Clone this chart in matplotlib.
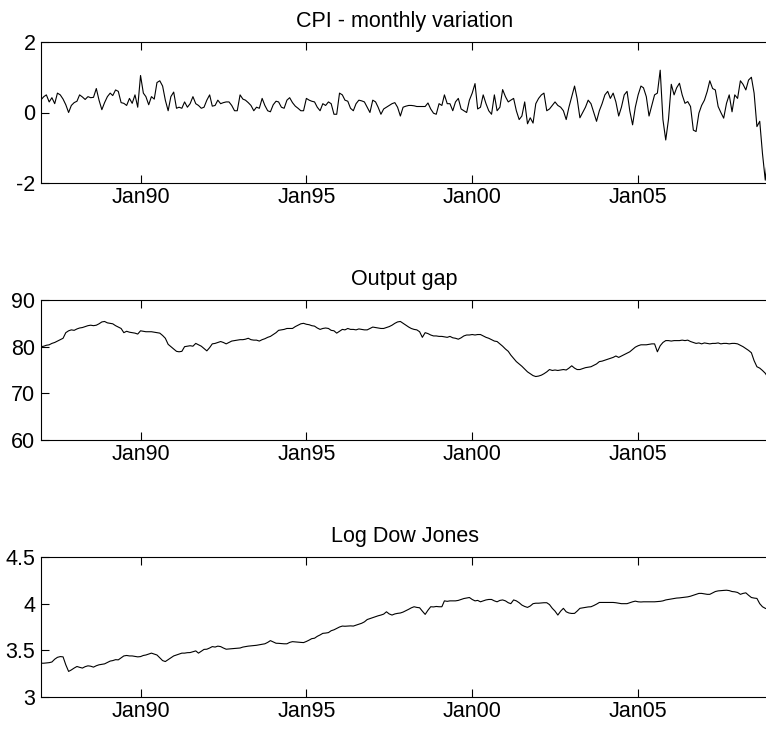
import numpy as np
import pandas as pd
import matplotlib
matplotlib.use('Agg')
import matplotlib.pyplot as plt
import matplotlib.dates as mdates

# monthly data, Jan 1987 - Dec 2008
start = '1987-01-01'

cpi = [
	0.36, 0.45, 0.5, 0.3, 0.42, 0.25, 0.55, 0.5, 0.38, 0.22,
	0.0, 0.2, 0.28, 0.32, 0.5, 0.44, 0.37, 0.45, 0.42, 0.43,
	0.68, 0.35, 0.08, 0.28, 0.45, 0.55, 0.48, 0.64, 0.6, 0.28,
	0.26, 0.2, 0.4, 0.26, 0.5, 0.15, 1.05, 0.55, 0.45, 0.22,
	0.45, 0.38, 0.85, 0.9, 0.75, 0.35, 0.05, 0.45, 0.58, 0.12,
	0.15, 0.12, 0.3, 0.15, 0.25, 0.45, 0.25, 0.2, 0.12, 0.15,
	0.35, 0.5, 0.18, 0.2, 0.35, 0.25, 0.28, 0.3, 0.3, 0.2,
	0.05, 0.05, 0.5, 0.38, 0.35, 0.28, 0.2, 0.05, 0.15, 0.12,
	0.4, 0.2, 0.05, 0.02, 0.22, 0.32, 0.3, 0.15, 0.12, 0.35,
	0.42, 0.28, 0.18, 0.12, 0.05, 0.05, 0.4, 0.35, 0.32, 0.3,
	0.15, 0.05, 0.25, 0.2, 0.3, 0.25, -0.05, -0.05, 0.55, 0.5,
	0.35, 0.32, 0.12, 0.05, 0.25, 0.35, 0.33, 0.3, 0.15, 0.0,
	0.35, 0.3, 0.15, -0.05, 0.1, 0.15, 0.2, 0.25, 0.28, 0.15,
	-0.1, 0.15, 0.18, 0.2, 0.2, 0.19, 0.17, 0.17, 0.17, 0.17,
	0.27, 0.1, -0.02, -0.05, 0.25, 0.2, 0.5, 0.25, 0.25, 0.05,
	0.3, 0.4, 0.1, 0.05, 0.0, 0.35, 0.55, 0.82, 0.1, 0.15,
	0.5, 0.25, 0.05, -0.05, 0.5, 0.05, 0.15, 0.65, 0.45, 0.3,
	0.35, 0.4, 0.05, -0.2, -0.1, 0.3, -0.32, -0.15, -0.3, 0.25,
	0.4, 0.5, 0.55, 0.05, 0.1, 0.2, 0.3, 0.2, 0.15, 0.05,
	-0.2, 0.15, 0.45, 0.75, 0.4, -0.15, 0.0, 0.15, 0.35, 0.25,
	0.0, -0.25, 0.05, 0.25, 0.5, 0.6, 0.4, 0.55, 0.3, -0.1,
	0.15, 0.5, 0.6, 0.05, -0.35, 0.15, 0.5, 0.75, 0.7, 0.45,
	-0.1, 0.2, 0.5, 0.55, 1.2, -0.2, -0.78, -0.2, 0.8, 0.5,
	0.7, 0.83, 0.5, 0.26, 0.31, 0.17, -0.5, -0.54, -0.02, 0.2,
	0.35, 0.6, 0.9, 0.68, 0.64, 0.17, 0.0, -0.16, 0.26, 0.5,
	0.02, 0.5, 0.4, 0.9, 0.8, 0.64, 0.92, 1.0, 0.55, -0.4,
	-0.25, -1.16, -1.92, -1.1,
]

output_gap = [
	80.0, 80.1, 80.3, 80.4, 80.7, 80.9, 81.2, 81.5, 81.8, 83.0,
	83.4, 83.6, 83.5, 83.8, 84.0, 84.1, 84.3, 84.5, 84.6, 84.5,
	84.6, 84.9, 85.3, 85.4, 85.1, 85.0, 84.9, 84.5, 84.2, 83.9,
	83.0, 83.3, 83.1, 83.0, 82.9, 82.7, 83.4, 83.3, 83.2, 83.2,
	83.2, 83.1, 83.0, 82.9, 82.4, 81.8, 80.5, 80.0, 79.5, 79.0,
	78.9, 79.0, 80.0, 80.1, 80.2, 80.1, 80.7, 80.4, 80.1, 79.6,
	79.1, 79.8, 80.6, 80.7, 80.9, 81.1, 80.9, 80.6, 80.9, 81.2,
	81.3, 81.4, 81.5, 81.5, 81.6, 81.8, 81.5, 81.4, 81.4, 81.2,
	81.5, 81.7, 82.0, 82.2, 82.6, 83.0, 83.5, 83.6, 83.7, 83.9,
	83.9, 83.9, 84.3, 84.6, 84.9, 85.0, 84.8, 84.7, 84.5, 84.4,
	84.0, 83.7, 83.9, 84.0, 83.9, 83.5, 83.4, 82.9, 83.3, 83.7,
	83.6, 83.9, 83.7, 83.7, 83.6, 83.8, 83.7, 83.6, 83.6, 83.9,
	84.2, 84.1, 84.0, 83.9, 83.9, 84.1, 84.3, 84.6, 85.0, 85.3,
	85.4, 85.0, 84.6, 84.2, 83.9, 83.7, 83.6, 83.2, 82.0, 83.0,
	82.8, 82.5, 82.3, 82.3, 82.2, 82.2, 82.1, 82.0, 82.2, 81.9,
	81.8, 81.6, 81.9, 82.3, 82.5, 82.5, 82.6, 82.5, 82.6, 82.6,
	82.3, 82.0, 81.8, 81.5, 81.2, 81.1, 80.6, 80.1, 79.5, 79.0,
	78.2, 77.5, 76.8, 76.3, 75.8, 75.2, 74.6, 74.2, 73.8, 73.6,
	73.7, 73.9, 74.2, 74.6, 75.1, 74.9, 75.0, 74.9, 75.0, 75.1,
	75.0, 75.4, 75.9, 75.4, 75.1, 75.1, 75.3, 75.5, 75.6, 75.7,
	76.0, 76.3, 76.8, 76.9, 77.1, 77.3, 77.5, 77.7, 78.0, 77.7,
	78.0, 78.3, 78.6, 78.9, 79.4, 79.9, 80.2, 80.4, 80.4, 80.4,
	80.5, 80.6, 80.6, 78.9, 80.2, 80.9, 81.3, 81.3, 81.2, 81.3,
	81.3, 81.3, 81.4, 81.3, 81.4, 81.1, 80.9, 80.7, 80.8, 80.6,
	80.8, 80.7, 80.6, 80.7, 80.7, 80.8, 80.6, 80.7, 80.7, 80.6,
	80.7, 80.7, 80.6, 80.3, 80.0, 79.6, 79.2, 78.7, 77.0, 75.7,
	75.4, 74.9, 74.3, 73.4,
]

log_dow = [
	3.362, 3.362, 3.365, 3.368, 3.375, 3.405, 3.425, 3.433, 3.43, 3.345,
	3.274, 3.29, 3.31, 3.327, 3.318, 3.31, 3.325, 3.334, 3.33, 3.32,
	3.335, 3.345, 3.35, 3.355, 3.37, 3.385, 3.39, 3.4, 3.398, 3.42,
	3.44, 3.445, 3.44, 3.44, 3.435, 3.43, 3.433, 3.445, 3.45, 3.46,
	3.47, 3.46, 3.45, 3.42, 3.39, 3.38, 3.4, 3.42, 3.44, 3.45,
	3.46, 3.47, 3.47, 3.475, 3.476, 3.485, 3.494, 3.47, 3.49, 3.51,
	3.512, 3.525, 3.54, 3.535, 3.545, 3.54, 3.525, 3.512, 3.515, 3.518,
	3.52, 3.522, 3.525, 3.535, 3.54, 3.545, 3.548, 3.55, 3.554, 3.56,
	3.565, 3.57, 3.585, 3.604, 3.59, 3.576, 3.575, 3.572, 3.57, 3.57,
	3.585, 3.593, 3.59, 3.588, 3.585, 3.583, 3.595, 3.61, 3.625, 3.63,
	3.65, 3.665, 3.682, 3.685, 3.69, 3.71, 3.72, 3.735, 3.75, 3.76,
	3.758, 3.76, 3.762, 3.76, 3.77, 3.78, 3.79, 3.805, 3.83, 3.84,
	3.85, 3.86, 3.87, 3.878, 3.888, 3.913, 3.89, 3.878, 3.89, 3.896,
	3.9, 3.91, 3.925, 3.94, 3.955, 3.967, 3.96, 3.956, 3.92, 3.885,
	3.93, 3.967, 3.965, 3.97, 3.967, 3.967, 4.03, 4.025, 4.03, 4.03,
	4.03, 4.035, 4.045, 4.055, 4.06, 4.066, 4.045, 4.03, 4.035, 4.02,
	4.03, 4.04, 4.045, 4.045, 4.03, 4.02, 4.035, 4.04, 4.03, 4.01,
	4.0, 4.04, 4.03, 4.01, 3.985, 3.97, 3.96, 3.975, 4.0, 4.005,
	4.005, 4.008, 4.01, 4.01, 3.99, 3.95, 3.92, 3.878, 3.92, 3.95,
	3.913, 3.9, 3.895, 3.896, 3.92, 3.95, 3.955, 3.96, 3.965, 3.967,
	3.98, 3.995, 4.013, 4.013, 4.013, 4.013, 4.013, 4.013, 4.01, 4.005,
	4.0, 4.0, 4.0, 4.01, 4.02, 4.027, 4.02, 4.018, 4.02, 4.02,
	4.02, 4.02, 4.02, 4.022, 4.025, 4.03, 4.04, 4.045, 4.05, 4.056,
	4.06, 4.062, 4.066, 4.07, 4.073, 4.08, 4.09, 4.1, 4.11, 4.11,
	4.105, 4.1, 4.1, 4.115, 4.13, 4.137, 4.14, 4.142, 4.144, 4.14,
	4.13, 4.127, 4.12, 4.1, 4.11, 4.116, 4.09, 4.066, 4.06, 4.056,
	4.0, 3.967, 3.95, 3.94,
]

titles = ['CPI - monthly variation', 'Output gap', 'Log Dow Jones']
yticks = [[-2, 0, 2], [60, 70, 80, 90], [3, 3.5, 4, 4.5]]
yticklabels = [['-2', '0', '2'], ['60', '70', '80', '90'], ['3', '3.5', '4', '4.5']]
ylims = [(-2, 2), (60, 90), (3, 4.5)]
xtick_years = ['1990', '1995', '2000', '2005']

dates = pd.date_range(start, periods=len(cpi), freq='MS')

plt.rcParams['font.family'] = ['Liberation Sans', 'DejaVu Sans']

fig = plt.figure(figsize=(7.66, 7.29), dpi=100)
W, H = 766.0, 729.0
# pixel boxes (top, bottom) of the three panels
boxes = [(42, 183), (300, 440), (557, 697)]
left, right = 41, 768

for i, series in enumerate([cpi, output_gap, log_dow]):
	top, bot = boxes[i]
	ax = fig.add_axes([left / W, 1 - bot / H, (right - left) / W, (bot - top) / H])
	ax.plot(dates, series, color='black', lw=0.8)
	ax.set_xlim(dates[0], dates[-1])
	ax.set_ylim(*ylims[i])
	ax.set_yticks(yticks[i])
	ax.set_yticklabels(yticklabels[i])
	ax.set_xticks([pd.Timestamp(y + '-01-01') for y in xtick_years])
	ax.xaxis.set_major_formatter(mdates.DateFormatter('%b%y'))
	# matlab style: ticks inside, right side is cut off in the picture
	ax.tick_params(direction='in', length=5.5, width=0.8, labelsize=15.5,
		top=True, right=False, pad=4)
	ax.tick_params(axis='x', pad=3)
	for s in ax.spines.values():
		s.set_linewidth(0.8)
	ax.set_title(titles[i], fontsize=15.5, pad=11)

fig.savefig('out.png', dpi=100)
